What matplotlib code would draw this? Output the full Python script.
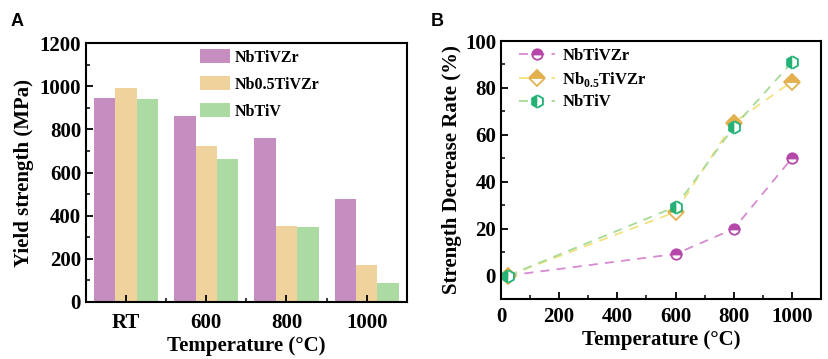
import matplotlib
matplotlib.use("Agg")
import matplotlib.pyplot as plt
import numpy as np
from matplotlib.ticker import MultipleLocator, FixedLocator

plt.rcParams['font.family'] = ['Liberation Serif', 'DejaVu Serif']
plt.rcParams['font.weight'] = 'bold'
plt.rcParams['mathtext.fontset'] = 'custom'
plt.rcParams['mathtext.rm'] = 'Liberation Serif:bold'
plt.rcParams['mathtext.bf'] = 'Liberation Serif:bold'

# Panel A data
categories = ["RT", "600", "800", "1000"]
series_a = ["NbTiVZr", "Nb0.5TiVZr", "NbTiV"]
ys_nbtivzr = [945, 860, 761, 476]
ys_nb05 = [990, 724, 351, 173]
ys_nbtiv = [939, 664, 346, 86]

# Panel B data
temps = [25, 600, 800, 1000]
dr_nbtivzr = [0, 9.2, 19.9, 50.0]
dr_nb05 = [0, 27.1, 65.2, 82.7]
dr_nbtiv = [0, 29.3, 63.3, 90.9]
labels_b = ["NbTiVZr", r"Nb$_{0.5}$TiVZr", "NbTiV"]

fig = plt.figure(figsize=(8.29, 3.59), dpi=100)

# ---------- Panel A ----------
axA = fig.add_axes([0.1037, 0.1588, 0.387, 0.7212])
bar_colors = ["#C68EC0", "#F0D29C", "#ABDAA3"]
x = np.arange(len(categories))
w = 0.267
for i, (vals, lab, c) in enumerate(zip([ys_nbtivzr, ys_nb05, ys_nbtiv], series_a, bar_colors)):
    axA.bar(x + (i - 1) * w, vals, width=w, color=c, label=lab)
axA.set_xlim(-0.5, 3.5)
axA.set_ylim(0, 1200)
axA.set_xticks(x)
axA.set_xticklabels(categories)
axA.xaxis.set_minor_locator(FixedLocator([0.5, 1.5, 2.5]))
axA.yaxis.set_major_locator(MultipleLocator(200))
axA.yaxis.set_minor_locator(MultipleLocator(100))
axA.tick_params(axis='both', which='major', direction='in', length=5, width=1.3, labelsize=15)
axA.tick_params(axis='both', which='minor', direction='in', length=3, width=1.1)
axA.tick_params(axis='x', which='major', pad=8)
for s in axA.spines.values():
    s.set_linewidth(1.5)
axA.set_xlabel("Temperature (°C)", fontsize=15, fontweight='bold', labelpad=2)
axA.set_ylabel("Yield strength (MPa)", fontsize=15, fontweight='bold', labelpad=4)
axA.legend(loc='upper left', frameon=False, fontsize=11.5, handlelength=1.9,
           handleheight=0.9, labelspacing=0.68, bbox_to_anchor=(0.335, 1.0),
           borderaxespad=0, handletextpad=0.3)

# ---------- Panel B ----------
axB = fig.add_axes([0.6043, 0.1671, 0.386, 0.7186])
line_colors = ["#D68ACF", "#F2E27E", "#A6DB95"]
mk_colors = ["#B447A8", "#E3B04E", "#22B276"]
markers = ["o", "D", "h"]
fills = ["top", "top", "left"]
msizes = [7.5, 8, 9]
for vals, lab, lc, mc, m, fs, ms in zip([dr_nbtivzr, dr_nb05, dr_nbtiv], labels_b,
                                          line_colors, mk_colors, markers, fills, msizes):
    axB.plot(temps, vals, linestyle=(0, (5, 4)), color=lc, linewidth=1.3,
             marker=m, fillstyle=fs, markersize=ms, markeredgecolor=mc,
             markerfacecolor=mc, markerfacecoloralt='white', markeredgewidth=1.3,
             label=lab)
axB.set_xlim(0, 1100)
axB.set_ylim(-10, 100)
axB.xaxis.set_major_locator(MultipleLocator(200))
axB.xaxis.set_minor_locator(MultipleLocator(100))
axB.yaxis.set_major_locator(MultipleLocator(20))
axB.yaxis.set_minor_locator(MultipleLocator(10))
axB.tick_params(axis='both', which='major', direction='in', length=5, width=1.3, labelsize=15)
axB.tick_params(axis='both', which='minor', direction='in', length=3, width=1.1)
axB.tick_params(axis='x', which='major', pad=6)
for s in axB.spines.values():
    s.set_linewidth(1.5)
axB.set_xlabel("Temperature (°C)", fontsize=15, fontweight='bold', labelpad=2)
axB.set_ylabel("Strength Decrease Rate (%)", fontsize=15, fontweight='bold', labelpad=2)
axB.legend(loc='upper left', frameon=False, fontsize=12, handlelength=2.2,
           labelspacing=0.35, bbox_to_anchor=(0.035, 1.0), borderaxespad=0,
           handletextpad=0.4)

fig.text(0.013, 0.965, "A", fontsize=13, fontweight='bold', family='Liberation Sans', va='top')
fig.text(0.519, 0.965, "B", fontsize=13, fontweight='bold', family='Liberation Sans', va='top')

fig.savefig("out.png", dpi=100)
